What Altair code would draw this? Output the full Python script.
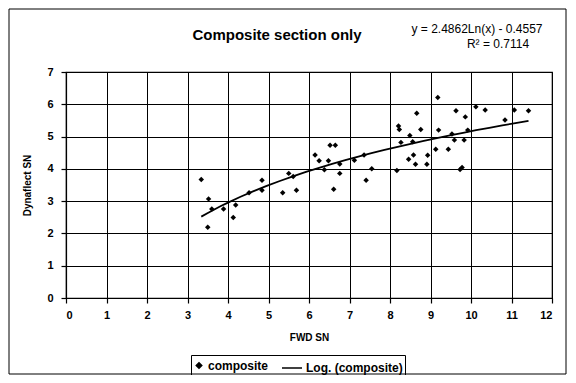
import altair as alt
import pandas as pd

fwd_sn = [3.34, 3.52, 3.60, 3.50, 3.89, 4.19, 4.13, 4.52, 4.84, 4.84,
          5.35, 5.69, 5.50, 5.61, 6.15, 6.25, 6.48, 6.38, 6.52, 6.65,
          6.76, 6.76, 6.61, 7.12, 7.36, 7.41, 7.55, 8.17, 8.21, 8.23,
          8.49, 8.27, 8.56, 8.66, 8.76, 9.18, 9.20, 9.53, 9.59, 9.83,
          9.63, 9.86, 9.92, 10.12, 10.35, 10.84, 11.07, 11.42, 9.13, 9.44,
          8.46, 8.58, 8.63, 8.93, 8.91, 9.73, 9.78]
dyn_sn = [3.67, 3.07, 2.76, 2.19, 2.76, 2.88, 2.49, 3.26, 3.65, 3.34,
          3.26, 3.34, 3.86, 3.76, 4.43, 4.25, 4.25, 3.97, 4.73, 4.73,
          4.15, 3.86, 3.37, 4.27, 4.43, 3.65, 4.00, 3.95, 5.33, 5.22,
          5.03, 4.82, 4.84, 5.72, 5.22, 6.21, 5.20, 5.08, 4.89, 4.89,
          5.80, 5.61, 5.20, 5.92, 5.82, 5.51, 5.82, 5.80, 4.61, 4.61,
          4.30, 4.43, 4.14, 4.42, 4.14, 3.98, 4.04]

series_names = ["composite", "Log. (composite)"]
chart_title = "Composite section only"
equation_line = "y = 2.4862Ln(x) - 0.4557"
r2_line = "R² = 0.7114"
x_ticks = list(range(0, 13))
y_ticks = list(range(0, 8))

df = pd.DataFrame({"fwd": fwd_sn, "dyn": dyn_sn})

FONT = "Liberation Sans"
W, H = 486, 226

xscale = alt.Scale(domain=[0, 12], nice=False, zero=False)
yscale = alt.Scale(domain=[0, 7], nice=False)

axis_common = dict(
    grid=True, gridColor="black", gridOpacity=1, gridWidth=1,
    domainColor="black", domainWidth=1.2,
    tickColor="black", tickSize=5, tickWidth=1.2,
    labelFont=FONT, labelFontSize=11, labelFontWeight="bold", labelColor="black",
    labelOverlap=False,
    titleFont=FONT, titleFontSize=10, titleFontWeight="bold", titleColor="black",
)
xaxis = alt.Axis(values=x_ticks, title="FWD SN", labelPadding=6,
                 titlePadding=12, **axis_common)
yaxis = alt.Axis(values=y_ticks, title="Dynaflect SN", labelPadding=8,
                 titlePadding=14, **axis_common)

color_scale = alt.Scale(domain=series_names, range=["black", "black"])
shape_scale = alt.Scale(domain=series_names, range=["diamond", "stroke"])
size_scale = alt.Scale(domain=series_names, range=[30, 400])

legend = alt.Legend(title=None, orient="none", direction="horizontal",
                    legendX=125, legendY=283)

points = alt.Chart(df).transform_calculate(series="'composite'").mark_point(
    filled=True, opacity=1
).encode(
    x=alt.X("fwd:Q", scale=xscale, axis=xaxis),
    y=alt.Y("dyn:Q", scale=yscale, axis=yaxis),
    color=alt.Color("series:N", scale=color_scale, legend=legend),
    shape=alt.Shape("series:N", scale=shape_scale, legend=legend),
    size=alt.Size("series:O", scale=size_scale, legend=legend),
)

trend = alt.Chart(df).transform_regression(
    "fwd", "dyn", method="log"
).transform_calculate(series="'Log. (composite)'").mark_line(
    strokeWidth=1.8
).encode(
    x=alt.X("fwd:Q", scale=xscale, axis=xaxis),
    y=alt.Y("dyn:Q", scale=yscale, axis=yaxis),
    color=alt.Color("series:N", scale=color_scale, legend=legend),
)

def label(text, x, y, size, weight="normal"):
    return alt.Chart(pd.DataFrame({"t": [text]})).mark_text(
        font=FONT, fontSize=size, fontWeight=weight, align="center",
        baseline="middle", color="black"
    ).encode(text="t:N", x=alt.value(x), y=alt.value(y))

title_txt = label(chart_title, 211, -37, 15, "bold")
eq1 = label(equation_line, 411, -43, 12)
eq2 = label(r2_line, 432, -28, 12)

frame = alt.Chart(pd.DataFrame({"a": [0]})).mark_rect(
    fill=None, stroke="black", strokeWidth=1
).encode(
    x=alt.value(-57), x2=alt.value(500), y=alt.value(-63), y2=alt.value(302)
)

chart = alt.layer(frame, points, trend, title_txt, eq1, eq2).properties(
    width=W,
    height=H,
    padding={"left": 58, "top": 64, "right": 16, "bottom": 77},
    autosize=alt.AutoSizeParams(type="none"),
).configure_view(stroke="black", strokeWidth=1.2).configure_legend(
    strokeColor="black", padding=2, labelFont=FONT, labelFontSize=12,
    labelFontWeight="bold", labelColor="black",
    symbolStrokeColor="black", symbolFillColor="black",
    symbolStrokeWidth=1.5, columnPadding=10, labelOffset=3,
)

chart.save("out.html", embed_options={"renderer": "svg", "actions": False})
